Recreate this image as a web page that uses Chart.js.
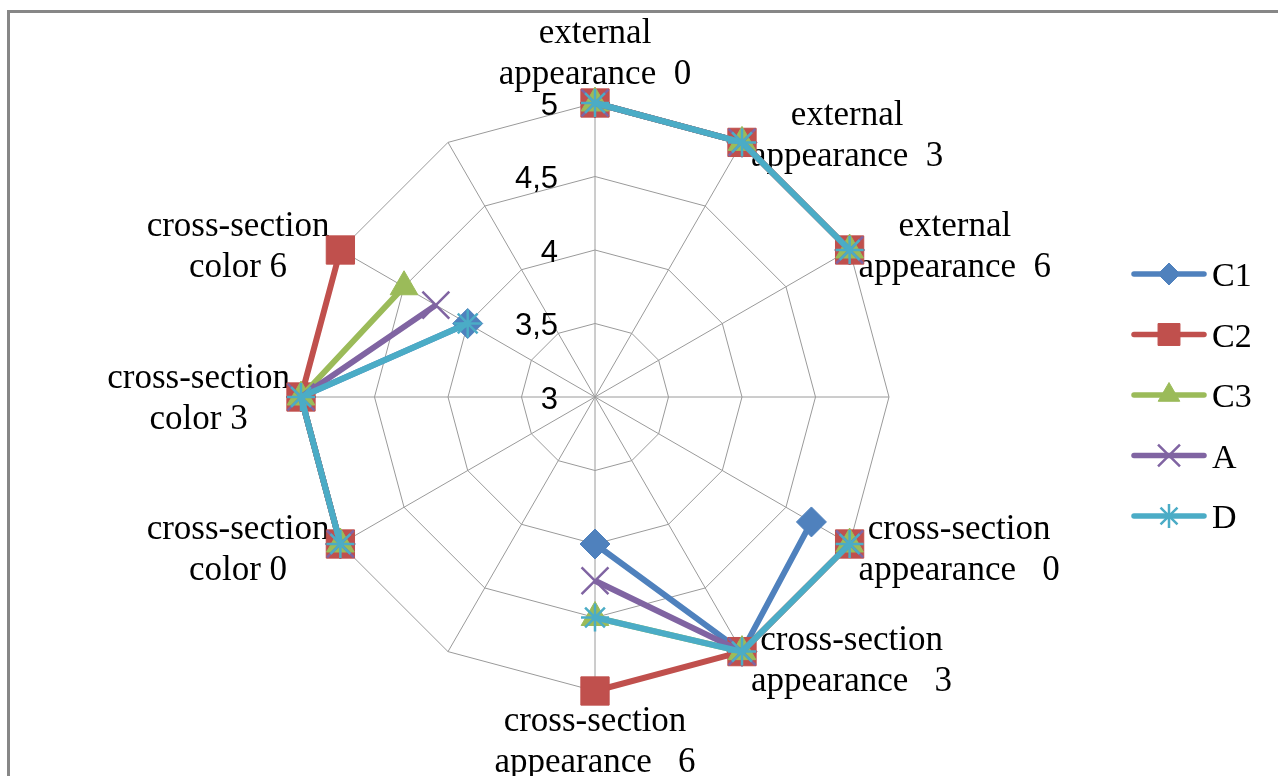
<!DOCTYPE html>
<html>
<head>
<meta charset="utf-8">
<script src="https://cdn.jsdelivr.net/npm/chart.js@4.4.1/dist/chart.umd.min.js"></script>
<style>
  html, body { margin: 0; padding: 0; background: #fff; }
  #wrap { position: relative; width: 1278px; height: 776px; }
</style>
</head>
<body>
<div id="wrap"><canvas id="radar"></canvas></div>
<script>
// categories around the web, clockwise from the top ('' = empty spoke)
const categories = [
  ['external', 'appearance  0'],
  ['external', 'appearance  3'],
  ['external', 'appearance  6'],
  '',
  ['cross-section', 'appearance   0'],
  ['cross-section', 'appearance   3'],
  ['cross-section', 'appearance   6'],
  '',
  ['cross-section', 'color 0'],
  ['cross-section', 'color 3'],
  ['cross-section', 'color 6'],
  ''
];

const seriesNames = ['C1', 'C2', 'C3', 'A', 'D'];
const c1Values = [5, 5, 5, null, 4.7, 5, 4,    null, 5, 5, 4,    null];
const c2Values = [5, 5, 5, null, 5,   5, 5,    null, 5, 5, 5,    null];
const c3Values = [5, 5, 5, null, 5,   5, 4.5,  null, 5, 5, 4.5,  null];
const aValues  = [5, 5, 5, null, 5,   5, 4.25, null, 5, 5, 4.25, null];
const dValues  = [5, 5, 5, null, 5,   5, 4.5,  null, 5, 5, 4,    null];
const seriesValues = [c1Values, c2Values, c3Values, aValues, dValues];

const scaleMin = 3;
const scaleMax = 5;
const scaleStep = 0.5;

// look of each series (Excel 2007 palette)
const colors = ['#4f81bd', '#c0504d', '#9bbb59', '#8064a2', '#4bacc6'];
const markers = ['rectRot', 'rect', 'triangle', 'crossRot', 'star'];
const markerRadius = [15, 20, 16, 19, 14];
const legendRadius = [11, 15.5, 12.5, 15.5, 12];
const markerBorder = [1, 1, 1, 2.5, 2.5];

const labelFont = '35px "Liberation Serif", "Times New Roman", serif';
const tickFont = '31px "Liberation Sans", Arial, sans-serif';

function drawMarker(ctx, style, radius, bw, x, y) {
  if (Chart.helpers && Chart.helpers.drawPoint) {
    Chart.helpers.drawPoint(ctx, { pointStyle: style, radius: radius, rotation: 0, borderWidth: bw }, x, y);
  }
}

const decorations = {
  id: 'decorations',
  beforeDraw(chart) {
    const ctx = chart.ctx;
    ctx.save();
    ctx.strokeStyle = '#878787';
    ctx.lineWidth = 3;
    ctx.strokeRect(8.5, 11.5, 1400, 900);
    ctx.restore();
  },
  beforeDatasetsDraw(chart) {
    const r = chart.scales.r;
    const ctx = chart.ctx;
    ctx.save();
    ctx.fillStyle = '#000';

    // value ticks, left of the top spoke, decimal comma
    ctx.font = tickFont;
    ctx.textAlign = 'right';
    ctx.textBaseline = 'middle';
    r.ticks.forEach(t => {
      const y = r.yCenter - r.getDistanceFromCenterForValue(t.value);
      ctx.fillText(String(t.value).replace('.', ','), r.xCenter - 37, y + 3);
    });

    // category labels
    ctx.font = labelFont;
    ctx.textAlign = 'center';
    ctx.textBaseline = 'alphabetic';
    const n = categories.length;
    const lh = 41;
    categories.forEach((lines, i) => {
      if (!lines) return;
      const p = r.getPointPosition(i, r.drawingArea);
      const deg = i * 360 / n;
      const w = Math.max(...lines.map(s => ctx.measureText(s).width));
      let cx, firstBase;
      if (deg === 0) {
        cx = p.x;
        firstBase = p.y - 19 - lh * (lines.length - 1);
      } else if (deg === 180) {
        cx = p.x;
        firstBase = p.y + 40;
      } else {
        cx = deg < 180 ? p.x + 9 + w / 2 : p.x - 11 - w / 2;
        const mid = p.y - 9 * Math.cos(deg * Math.PI / 180);
        firstBase = mid - lh * (lines.length - 1) / 2 + 11;
      }
      lines.forEach((s, k) => ctx.fillText(s, cx, firstBase + k * lh));
    });
    ctx.restore();
  },
  afterDraw(chart) {
    const ctx = chart.ctx;
    ctx.save();
    seriesNames.forEach((name, i) => {
      const y = 274 + i * 60.5;
      ctx.strokeStyle = colors[i];
      ctx.lineWidth = 5.5;
      ctx.lineCap = 'round';
      ctx.beginPath();
      ctx.moveTo(1134, y);
      ctx.lineTo(1204, y);
      ctx.stroke();

      ctx.lineCap = 'butt';
      ctx.fillStyle = colors[i];
      ctx.strokeStyle = colors[i];
      ctx.lineWidth = markerBorder[i];
      drawMarker(ctx, markers[i], legendRadius[i], markerBorder[i], 1169, y);

      ctx.fillStyle = '#000';
      ctx.font = '34px "Liberation Serif", "Times New Roman", serif';
      ctx.textAlign = 'left';
      ctx.textBaseline = 'alphabetic';
      ctx.fillText(name, 1212, y + 12);
    });
    ctx.restore();
  }
};

new Chart(document.getElementById('radar'), {
  type: 'radar',
  data: {
    labels: categories,
    datasets: seriesNames.map((name, i) => ({
      label: name,
      data: seriesValues[i],
      borderColor: colors[i],
      backgroundColor: colors[i],
      borderWidth: 6,
      fill: false,
      spanGaps: false,
      tension: 0,
      pointStyle: markers[i],
      pointRadius: markerRadius[i],
      pointHoverRadius: markerRadius[i],
      pointBorderWidth: markerBorder[i],
      pointBackgroundColor: colors[i],
      pointBorderColor: colors[i],
      order: seriesNames.length - i,
      clip: false
    }))
  },
  options: {
    responsive: true,
    maintainAspectRatio: false,
    animation: false,
    layout: { padding: { left: 301, right: 389, top: 103, bottom: 85 } },
    plugins: {
      legend: { display: false },
      tooltip: { enabled: false }
    },
    scales: {
      r: {
        min: scaleMin,
        max: scaleMax,
        startAngle: 0,
        ticks: { stepSize: scaleStep, display: false },
        pointLabels: { display: false },
        grid: { color: '#9a9a9a', lineWidth: 1, circular: false },
        angleLines: { color: '#9a9a9a', lineWidth: 1 }
      }
    }
  },
  plugins: [decorations]
});
</script>
</body>
</html>
